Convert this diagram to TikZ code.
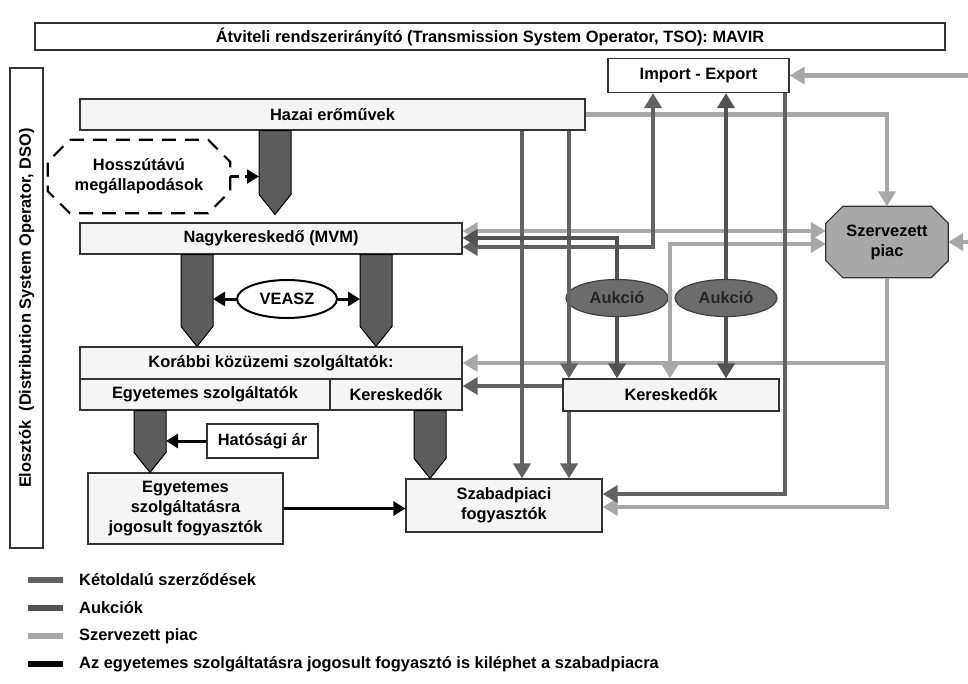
\documentclass[tikz,border=0pt]{standalone}
\usepackage{fontspec}
\setmainfont{Liberation Sans}
\usetikzlibrary{arrows.meta,calc,shapes.geometric,backgrounds}

% block arrow between two boxes: x, from, to, gap above the target
\newcommand\blokknyil[4]{%
    \draw[blokk] (#1-16,0 |- #2.south) -- ($(#1-16,0 |- #3.north)+(0,-#4-20)$)
        -- ($(#1,0 |- #3.north)+(0,-#4)$) -- ($(#1+16,0 |- #3.north)+(0,-#4-20)$)
        -- (#1+16,0 |- #2.south) -- cycle;
}
% octagon behind a node: style, node, corner cut
\newcommand\nyolcszog[3]{%
    \begin{pgfonlayer}{background}
    \draw[#1] ($(#2.north west)+(#3,0)$) -- ($(#2.north east)+(-#3,0)$) -- ($(#2.north east)+(0,#3)$)
        -- ($(#2.south east)+(0,-#3)$) -- ($(#2.south east)+(-#3,0)$) -- ($(#2.south west)+(#3,0)$)
        -- ($(#2.south west)+(0,-#3)$) -- ($(#2.north west)+(0,#3)$) -- cycle;
    \end{pgfonlayer}
}

\begin{document}
\begin{tikzpicture}[x=1pt, y=-1pt, font=\fontsize{16.4}{20}\selectfont\bfseries,
        doboz/.style={draw=black!80, fill=dobozszin, line width=1.2pt, inner sep=0pt, align=center},
        sima/.style={inner sep=0pt, align=center},
        blokk/.style={draw=black, fill=blokkszin, line width=1pt, line join=miter},
        kot/.style={draw=ketoldalu, line width=4.5pt},
        auk/.style={draw=aukcio, line width=4.5pt},
        szerv/.style={draw=szervezett, line width=4.5pt},
        fekete/.style={draw=black, line width=3pt, -{Triangle[width=14pt,length=12pt]}},
        >={Triangle[width=17pt,length=15pt]}]
    \useasboundingbox (0,0) rectangle (968,683);

    \xdefinecolor{ketoldalu}{RGB}{98,98,98}
    \xdefinecolor{aukcio}{RGB}{82,82,82}
    \xdefinecolor{szervezett}{RGB}{168,168,168}
    \xdefinecolor{blokkszin}{RGB}{92,92,92}
    \xdefinecolor{dobozszin}{RGB}{245,245,245}

    % Operators
    \node[doboz, fill=white, minimum width=910pt, minimum height=27pt] (TSO) at (490,36.5) {Átviteli rendszerirányító (Transmission System Operator, TSO): MAVIR};
    \node[doboz, fill=white, rotate=90, minimum width=480pt, minimum height=33pt] (DSO) at (26.5,308) {Elosztók\ \ (Distribution System Operator, DSO)};

    % Boxes on the left
    \node[doboz, minimum width=505pt, minimum height=31pt] (Hazai) at (332.5,114.5) {Hazai erőművek};
    \node[sima, minimum width=182pt, minimum height=73pt] (Hosszu) at (139,176.5) {Hosszútávú\\megállapodások};
    \nyolcszog{draw=black, fill=white, line width=2.2pt, dash pattern=on 14pt off 9pt}{Hosszu}{22}
    \node[doboz, minimum width=382pt, minimum height=31pt] (Nagyker) at (271,238.5) {Nagykereskedő (MVM)};
    \node[ellipse, draw=black, fill=white, line width=2pt, minimum width=100pt, minimum height=38pt, inner sep=0pt] (VEASZ) at (287,299) {VEASZ};
    \node[doboz, minimum width=382pt, minimum height=32pt] (Korabbi) at (271,363) {Korábbi közüzemi szolgáltatók:};
    \node[doboz, minimum width=250pt, minimum height=31pt] (Egyszolg) at (205,394.5) {Egyetemes szolgáltatók};
    \node[doboz, minimum width=132pt, minimum height=31pt] (Keresk1) at (396,394.5) {Kereskedők};
    \node[doboz, fill=white, line width=2.2pt, minimum width=111pt, minimum height=34pt] (Hatosagi) at (262.5,441) {Hatósági ár};
    \node[doboz, minimum width=195pt, minimum height=71pt] (Egyfogy) at (185.5,508.5) {Egyetemes\\szolgáltatásra\\jogosult fogyasztók};
    \node[doboz, minimum width=196pt, minimum height=53pt] (Szabad) at (504,505.5) {Szabadpiaci\\fogyasztók};

    % Boxes on the right
    \node[doboz, fill=white, minimum width=181pt, minimum height=34pt] (ImpExp) at (698.5,75.5) {Import - Export};
    \node[sima, minimum width=122pt, minimum height=71pt] (Szervezett) at (887,242) {Szervezett\\piac};
    \nyolcszog{draw=black!80, fill=szervezett, line width=1.2pt}{Szervezett}{17}
    \node[ellipse, draw=black!75, fill=aukcio!85, line width=1.2pt, minimum width=102pt, minimum height=37pt, inner sep=0pt, text=black!85] (Aukcio1) at (617,298) {Aukció};
    \node[ellipse, draw=black!75, fill=aukcio!85, line width=1.2pt, minimum width=102pt, minimum height=37pt, inner sep=0pt, text=black!85] (Aukcio2) at (726,298) {Aukció};
    \node[doboz, minimum width=216pt, minimum height=32pt] (Keresk2) at (671,395) {Kereskedők};

    % Block arrows
    \blokknyil{275}{Hazai}{Nagyker}{8}
    \blokknyil{197}{Nagyker}{Korabbi}{0}
    \blokknyil{376}{Nagyker}{Korabbi}{0}
    \blokknyil{150}{Egyszolg}{Egyfogy}{0}
    \blokknyil{430}{Keresk1}{Szabad}{0}

    % Free ends of the black arrows
    \coordinate (HB-bal) at (259,176.5);
    \coordinate (NB-jobb) at (213,299);
    \coordinate (NJ-bal) at (360,299);
    \coordinate (EB-jobb) at (166,441);
    \draw[fekete, dash pattern=on 9pt off 6pt, line width=2.2pt] (Hosszu.east) -- (HB-bal);
    \draw[fekete] (VEASZ.west) -- (NB-jobb);
    \draw[fekete] (VEASZ.east) -- (NJ-bal);
    \draw[fekete] (Hatosagi.west) -- (EB-jobb);
    \draw[fekete] (Egyfogy.east) -- (Szabad.west |- Egyfogy.east);

    % Szervezett piac lines
    \coordinate (jobb-fent) at (968,75.5);
    \coordinate (jobb-kozep) at (968,242);
    \draw[szerv, ->] (jobb-fent) -- (ImpExp.east);
    \draw[szerv, ->] (jobb-kozep) -- (Szervezett.east);
    \draw[szerv, ->] (Hazai.east) -| (Szervezett.north);
    \draw[szerv, <->] (Nagyker.east |- 0,231) -- (Szervezett.west |- 0,231);
    \draw[szerv, <->] (670,0 |- Keresk2.north) |- (Szervezett.west |- 0,244);
    \draw[szerv, ->] (Szervezett.south) |- (Szabad.east |- 0,507);
    \draw[szerv, ->] (Szervezett.south |- Korabbi.east) -- (Korabbi.east);

    % Ketoldalu szerzodesek
    \draw[kot, ->] (522,0 |- Hazai.south) -- (522,0 |- Szabad.north);
    \draw[kot, ->] (569,0 |- Hazai.south) -- (569,0 |- Keresk2.north);
    \draw[kot, ->] (569,0 |- Keresk2.south) -- (569,0 |- Szabad.north);
    \draw[kot, ->] (Keresk2.west |- 0,386) -- (Keresk1.east |- 0,386);
    \draw[kot, <->] (653,0 |- ImpExp.south) |- (Nagyker.east |- 0,247);
    \draw[kot, ->] (785,0 |- ImpExp.south) |- (Szabad.east |- 0,494);

    % Aukciok
    \draw[auk, ->] (Aukcio1.north) |- (Nagyker.east |- 0,238);
    \draw[auk, ->] (Aukcio1.south) -- (Aukcio1.south |- Keresk2.north);
    \draw[auk, ->] (Aukcio2.north) -- (Aukcio2.north |- ImpExp.south);
    \draw[auk, ->] (Aukcio2.south) -- (Aukcio2.south |- Keresk2.north);

    % Legend
    \foreach \szin/\szoveg [count=\i] in {ketoldalu/Kétoldalú szerződések, aukcio/Aukciók, szervezett/Szervezett piac,
            black/Az egyetemes szolgáltatásra jogosult fogyasztó is kiléphet a szabadpiacra} {
        \draw[\szin, line width=6pt] (28,552+28*\i) -- (63,552+28*\i);
        \node[anchor=west, inner sep=0pt] (jel\i) at (79,552+28*\i) {\szoveg};
    }
\end{tikzpicture}
\end{document}
